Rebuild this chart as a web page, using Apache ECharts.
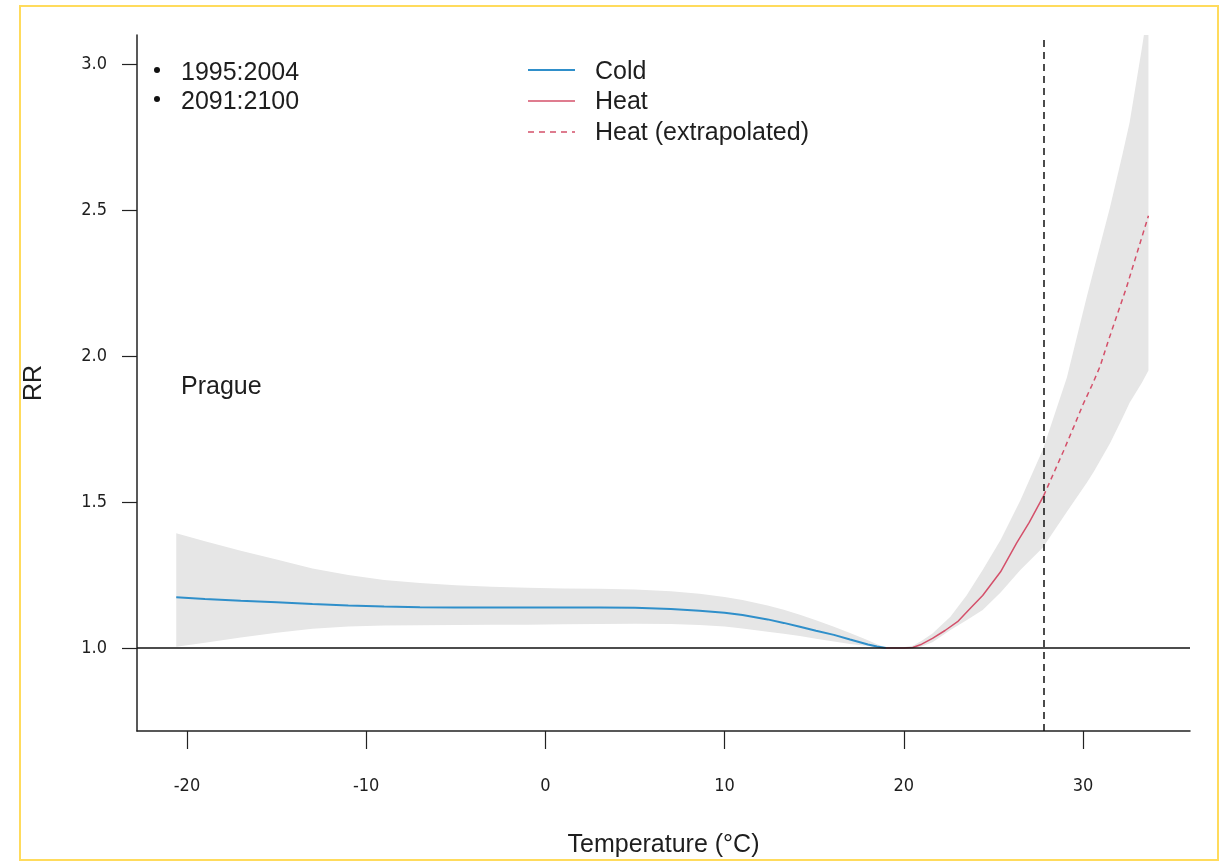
<!DOCTYPE html>
<html>
<head>
<meta charset="utf-8">
<script src="https://cdn.jsdelivr.net/npm/echarts@6/dist/echarts.min.js"></script>
<style>
html,body{margin:0;padding:0;background:#fff;}
#chart{width:1223px;height:861px;}
</style>
</head>
<body>
<div id="chart"></div>
<script>
// ---- Data ----
const xTicks = [-20, -10, 0, 10, 20, 30];
const yTicks = [1.0, 1.5, 2.0, 2.5, 3.0];

const coldT = [-20.6, -19, -17, -15, -13, -11, -9, -7, -5, -3, -1, 1, 3, 5, 7, 8.6, 10, 11, 12.4, 13.3, 14.2, 15.1, 16.1, 17, 18, 18.5, 19];
const coldRR = [1.174, 1.168, 1.162, 1.157, 1.151, 1.146, 1.142, 1.140, 1.139, 1.139, 1.139, 1.139, 1.139, 1.138, 1.134, 1.128, 1.121, 1.113, 1.098, 1.086, 1.073, 1.059, 1.045, 1.029, 1.012, 1.005, 1.000];
const coldUpper = [1.393, 1.366, 1.333, 1.303, 1.272, 1.250, 1.233, 1.223, 1.215, 1.210, 1.206, 1.204, 1.203, 1.200, 1.194, 1.186, 1.175, 1.164, 1.146, 1.131, 1.114, 1.095, 1.073, 1.051, 1.027, 1.013, 1.002];
const coldLower = [1.004, 1.018, 1.036, 1.052, 1.066, 1.074, 1.077, 1.078, 1.079, 1.080, 1.080, 1.081, 1.082, 1.083, 1.082, 1.079, 1.074, 1.067, 1.056, 1.049, 1.041, 1.032, 1.022, 1.014, 1.007, 1.003, 1.000];

const heatT = [19, 19.5, 20, 20.5, 21, 21.6, 22.3, 23, 23.7, 24.4, 25.4, 26.3, 27.0, 27.8];
const heatRR = [1.000, 1.000, 1.000, 1.002, 1.013, 1.033, 1.060, 1.090, 1.135, 1.180, 1.261, 1.360, 1.430, 1.521];

const extT = [27.8, 28.4, 28.9, 29.5, 30.0, 30.5, 30.95, 31.4, 31.9, 32.4, 32.8, 33.2, 33.65];
const extRR = [1.521, 1.604, 1.673, 1.760, 1.834, 1.900, 1.964, 2.050, 2.140, 2.230, 2.310, 2.390, 2.480];

const heatCIT = [19, 20, 20.5, 21, 21.6, 22.6, 23.5, 24.4, 25.4, 26.5, 27.76, 29.1, 30.2, 30.6, 31.5, 32.2, 32.6, 33.3, 33.65];
const heatUpper = [1.002, 1.003, 1.008, 1.025, 1.050, 1.107, 1.180, 1.267, 1.370, 1.505, 1.680, 1.926, 2.200, 2.295, 2.508, 2.690, 2.800, 3.060, 3.200];
const heatLower = [1.000, 1.000, 1.000, 1.005, 1.020, 1.062, 1.095, 1.130, 1.190, 1.267, 1.344, 1.467, 1.565, 1.604, 1.700, 1.788, 1.840, 1.910, 1.950];

const threshold = 27.8;
const refRR = 1.0;
const periods = ['1995:2004', '2091:2100'];
const cityName = 'Prague';
const legendNames = ['Cold', 'Heat', 'Heat (extrapolated)'];

// ---- Build ----
const pairs = (xs, ys) => xs.map((x, i) => [x, ys[i]]);
const triples = (xs, lo, hi) => xs.map((x, i) => [x, lo[i], hi[i]]);

const FONT = '"Liberation Sans", Arial, sans-serif';
const TICKFONT = '"Liberation Sans Narrow", "Arial Narrow", "DejaVu Sans Condensed", sans-serif';
const BAND = '#e6e6e6';
const COLD = '#2f8fca';
const HEAT = '#d4506a';
const TXT = '#1e1e1e';

function bandSeries(name, rows) {
  return {
    type: 'custom', name: name, data: rows, clip: true, silent: true, z: 1,
    encode: {x: 0, y: [1, 2]},
    renderItem: function (params, api) {
      if (params.dataIndex !== 0) return null;
      const n = params.dataInsideLength;
      const top = [], bot = [];
      for (let i = 0; i < n; i++) {
        const x = api.value(0, i);
        bot.push(api.coord([x, api.value(1, i)]));
        top.push(api.coord([x, api.value(2, i)]));
      }
      const pts = bot.concat(top.reverse());
      return {type: 'polygon', shape: {points: pts}, style: {fill: BAND, stroke: null}};
    }
  };
}

const chart = echarts.init(document.getElementById('chart'), null, {renderer: 'canvas'});

const LEG_X0 = 528, LEG_X1 = 575, LEG_TX = 595;
const legRows = [72, 102, 133];

const option = {
  animation: false,
  backgroundColor: '#fff',
  grid: {left: 137, right: 33, top: 35, bottom: 130, containLabel: false, outerBoundsMode: 'none'},
  xAxis: {
    type: 'value',
    min: -22.79, max: 35.97,
    name: 'Temperature (°C)',
    nameLocation: 'middle',
    nameGap: 102,
    nameTextStyle: {fontFamily: FONT, fontSize: 25, color: TXT},
    axisLine: {show: true, onZero: false, lineStyle: {color: '#222', width: 1.5}},
    axisTick: {show: true, length: 18, customValues: xTicks, lineStyle: {color: '#222', width: 1.2}},
    axisLabel: {customValues: xTicks, margin: 46, fontFamily: TICKFONT, fontSize: 18, color: TXT},
    splitLine: {show: false}
  },
  yAxis: {
    type: 'value',
    min: 0.7158, max: 3.0993,
    name: 'RR',
    nameLocation: 'middle',
    nameRotate: 90,
    nameGap: 90,
    nameTextStyle: {fontFamily: FONT, fontSize: 25, color: TXT},
    axisLine: {show: true, onZero: false, lineStyle: {color: '#222', width: 1.5}},
    axisTick: {show: true, length: 15, customValues: yTicks, lineStyle: {color: '#222', width: 1.2}},
    axisLabel: {customValues: yTicks, margin: 30, fontFamily: TICKFONT, fontSize: 18, color: TXT,
      formatter: v => v.toFixed(1)},
    splitLine: {show: false}
  },
  series: [
    bandSeries('coldCI', triples(coldT, coldLower, coldUpper)),
    bandSeries('heatCI', triples(heatCIT, heatLower, heatUpper)),
    {type: 'line', name: 'ref', data: [], symbol: 'none', silent: true, z: 3,
      markLine: {symbol: 'none', silent: true, label: {show: false}, animation: false,
        data: [
          {yAxis: refRR, lineStyle: {color: '#111', width: 1.6, type: 'solid'}},
          {xAxis: threshold, lineStyle: {color: '#111', width: 1.5, type: [7, 5]}}
        ]}},
    {type: 'line', name: legendNames[0], data: pairs(coldT, coldRR), symbol: 'none',
      lineStyle: {color: COLD, width: 2}, itemStyle: {color: COLD}, z: 4},
    {type: 'line', name: legendNames[1], data: pairs(heatT, heatRR), symbol: 'none',
      lineStyle: {color: HEAT, width: 1.5}, itemStyle: {color: HEAT}, z: 4},
    {type: 'line', name: legendNames[2], data: pairs(extT, extRR), symbol: 'none',
      lineStyle: {color: HEAT, width: 1.5, type: [5, 4]}, itemStyle: {color: HEAT}, z: 4}
  ],
  graphic: [
    {type: 'rect', shape: {x: 20, y: 6, width: 1198, height: 854}, silent: true, z: -10,
      style: {fill: 'none', stroke: '#ffdb5c', lineWidth: 2}},
    // left legend (periods)
    {type: 'circle', shape: {cx: 157, cy: 70, r: 3}, silent: true, style: {fill: '#111'}},
    {type: 'circle', shape: {cx: 157, cy: 99, r: 3}, silent: true, style: {fill: '#111'}},
    {type: 'text', x: 181, y: 73, silent: true,
      style: {text: periods[0], fontFamily: FONT, fontSize: 25, fill: TXT, verticalAlign: 'middle'}},
    {type: 'text', x: 181, y: 102, silent: true,
      style: {text: periods[1], fontFamily: FONT, fontSize: 25, fill: TXT, verticalAlign: 'middle'}},
    // series legend
    {type: 'line', shape: {x1: LEG_X0, y1: legRows[0] - 2, x2: LEG_X1, y2: legRows[0] - 2}, silent: true,
      style: {stroke: COLD, lineWidth: 2}},
    {type: 'line', shape: {x1: LEG_X0, y1: legRows[1] - 1, x2: LEG_X1, y2: legRows[1] - 1}, silent: true,
      style: {stroke: HEAT, lineWidth: 1.5}},
    {type: 'line', shape: {x1: LEG_X0, y1: legRows[2] - 1, x2: LEG_X1, y2: legRows[2] - 1}, silent: true,
      style: {stroke: HEAT, lineWidth: 1.5, lineDash: [6, 5]}},
    {type: 'text', x: LEG_TX, y: legRows[0], silent: true,
      style: {text: legendNames[0], fontFamily: FONT, fontSize: 25, fill: TXT, verticalAlign: 'middle'}},
    {type: 'text', x: LEG_TX, y: legRows[1], silent: true,
      style: {text: legendNames[1], fontFamily: FONT, fontSize: 25, fill: TXT, verticalAlign: 'middle'}},
    {type: 'text', x: LEG_TX, y: legRows[2], silent: true,
      style: {text: legendNames[2], fontFamily: FONT, fontSize: 25, fill: TXT, verticalAlign: 'middle'}},
    // city label
    {type: 'text', x: 181, y: 387, silent: true,
      style: {text: cityName, fontFamily: FONT, fontSize: 25, fill: TXT, verticalAlign: 'middle'}}
  ]
};

chart.setOption(option);
</script>
</body>
</html>
